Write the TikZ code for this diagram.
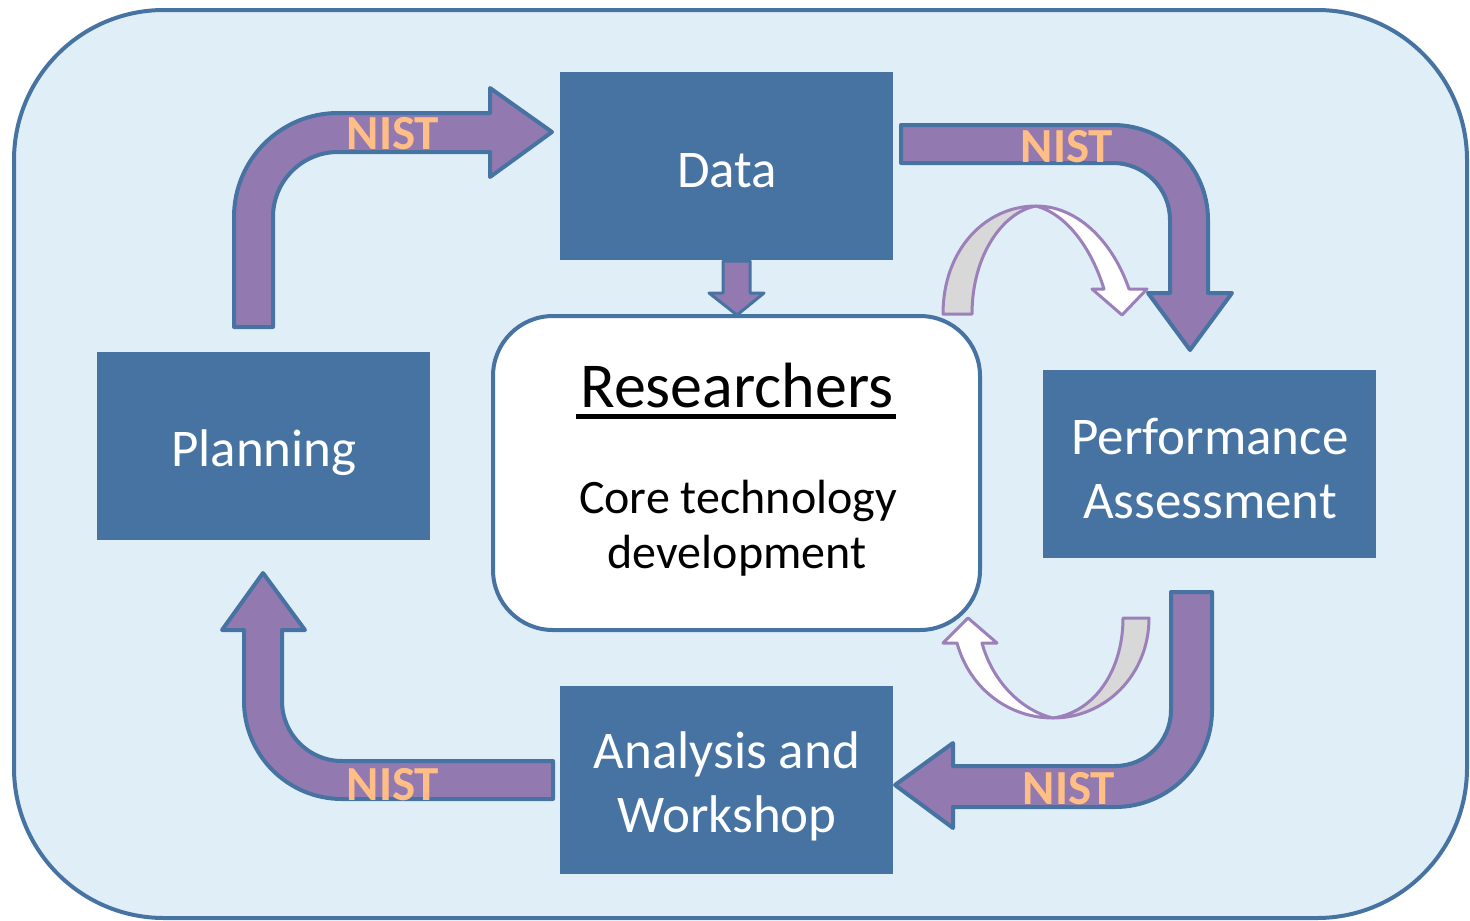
\documentclass[tikz,border=0pt]{standalone}
\usepackage{fontspec}
\setmainfont{Carlito}

\definecolor{boxblue}{RGB}{70,115,162}
\definecolor{framefill}{RGB}{224,239,247}
\definecolor{nistpurple}{RGB}{146,121,176}
\definecolor{nistpeach}{RGB}{255,190,134}
\definecolor{loopgray}{RGB}{216,216,216}
\definecolor{loopline}{RGB}{155,128,186}

\begin{document}
\begin{tikzpicture}[x=1pt, y=-1pt,
    bluebox/.style={fill=boxblue, minimum width=333pt, minimum height=188pt},
    boxtext/.style={text=white, anchor=base, inner sep=0pt, align=center, font=\fontsize{53}{64}\selectfont},
    nistarrow/.style={fill=nistpurple, draw=boxblue, line width=4pt, line join=round},
    nistlabel/.style={text=nistpeach, inner sep=0pt, font=\bfseries\fontsize{49}{50}\selectfont},
    loopback/.style={fill=loopgray, draw=loopline, line width=3pt, line join=round},
    loopfront/.style={fill=white, draw=loopline, line width=3pt, line join=round}]
    \useasboundingbox (0,0) rectangle (1470,921);

    % Outer frame
    \draw[fill=framefill, draw=boxblue, line width=4pt, rounded corners=150pt] (14,10) rectangle (1467,918);

    % Boxes
    \node[bluebox] (data) at (726.5,166) {};
    \node[bluebox] (plan) at (263,446) {};
    \node[bluebox] (perf) at (1209.5,464) {};
    \node[bluebox] (anal) at (726.5,780) {};
    \node[boxtext] (datatext) at (727,187) {Data};
    \node[boxtext] (plantext) at (264,466) {Planning};
    \node[boxtext] (perftext) at (1210,518) {Performance\\Assessment};
    \node[boxtext] (analtext) at (727,832) {Analysis and\\Workshop};

    % Researchers
    \node[draw=boxblue, fill=white, line width=4pt, rounded corners=60pt, minimum width=487pt, minimum height=314pt] (res) at (736.5,473) {};
    \node[anchor=base, inner sep=0pt, font=\fontsize{64}{70}\selectfont] (restitle) at (737,407) {Researchers};
    \draw[line width=5pt] ([xshift=-4pt, yshift=-9pt]restitle.base west) -- ([xshift=2pt, yshift=-9pt]restitle.base east);
    \node[anchor=base, inner sep=0pt, font=\fontsize{48}{55}\selectfont] (core) at (738,513) {Core technology};
    \node[anchor=base, inner sep=0pt, font=\fontsize{48}{55}\selectfont] (devel) at (737,568) {development};

    % Data -> Researchers
    \draw[nistarrow, line width=3pt] (723,261) -- (750,261) -- (750,293) -- (764,293) -- (737,315) -- (709,293) -- (723,293) -- cycle;

    % NIST arrows
    \draw[nistarrow] (234,327) -- (234,217) arc[start angle=180, end angle=270, radius=104] -- (490,113) -- (490,88) -- (552,132) -- (490,177) -- (490,152) -- (338,152) arc[start angle=270, end angle=180, radius=65] -- (273,327) -- cycle;
    \draw[nistarrow] (901,125) -- (1113,125) arc[start angle=270, end angle=360, radius=95] -- (1208,293) -- (1232,293) -- (1190,350) -- (1148,293) -- (1170,293) -- (1170,220) arc[start angle=0, end angle=-90, radius=57] -- (901,163) -- cycle;
    \draw[nistarrow] (1212,592) -- (1212,710) arc[start angle=0, end angle=90, radius=97] -- (953,807) -- (953,828) -- (895,785) -- (953,743) -- (953,766) -- (1115,766) arc[start angle=90, end angle=0, radius=56] -- (1171,592) -- cycle;
    \draw[nistarrow] (553,799) -- (342,799) arc[start angle=90, end angle=180, radius=98] -- (244,630) -- (222,630) -- (263,573) -- (305,630) -- (282,630) -- (282,701) arc[start angle=180, end angle=90, radius=60] -- (553,761) -- cycle;

    \node[nistlabel] (nist1) at (393,134) {NIST};
    \node[nistlabel] (nist2) at (1067,147) {NIST};
    \node[nistlabel] (nist3) at (1069,789) {NIST};
    \node[nistlabel] (nist4) at (393,785) {NIST};

    % Loops by the researchers
    \draw[loopback] (943,314) .. controls (943,250) and (985,206) .. (1036,206) .. controls (1003,212) and (972,255) .. (972,314) -- cycle;
    \draw[loopfront] (1036,206) .. controls (1080,206) and (1114,245) .. (1129,289) -- (1147,289) -- (1122,315) -- (1092,289) -- (1104,289) .. controls (1091,247) and (1066,214) .. (1036,206) -- cycle;
    \draw[loopback] (1149,618) .. controls (1149,675) and (1105,718) .. (1053,718) .. controls (1095,712) and (1123,670) .. (1123,618) -- cycle;
    \draw[loopfront] (1053,718) .. controls (1010,718) and (970,690) .. (957,643) -- (943,643) -- (968,618) -- (997,643) -- (982,643) .. controls (992,680) and (1020,710) .. (1053,718) -- cycle;
\end{tikzpicture}
\end{document}
